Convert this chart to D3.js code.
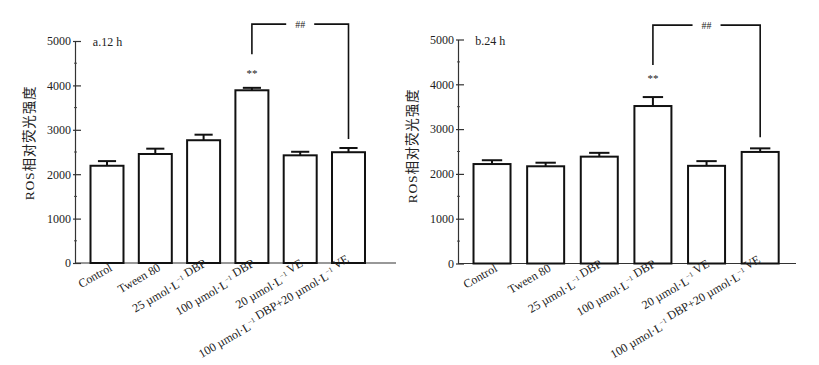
<!DOCTYPE html>
<html>
<head>
<meta charset="utf-8">
<script src="https://cdn.jsdelivr.net/npm/d3@7"></script>
<style>
  body { margin: 0; background: #fff; }
  svg { display: block; }
  text { font-family: "Liberation Serif", "Noto Sans CJK SC", serif; fill: #222; }
</style>
</head>
<body>
<svg id="svg" width="819" height="365"></svg>
<script>
// data
let categories = ["Control", "Tween 80", "25 DBP", "100 DBP", "20 VE", "100 DBP+20 VE"];
let values12 = [2190, 2455, 2765, 3890, 2425, 2495];
let errors12 = [105, 120, 125, 55, 80, 95];
let values24 = [2220, 2170, 2385, 3515, 2180, 2490];
let errors24 = [85, 80, 85, 200, 105, 80];
let yTicks = [0, 1000, 2000, 3000, 4000, 5000];
let yMinor = [500, 1500, 2500, 3500, 4500];
let panelTitles = ["a.12 h", "b.24 h"];

// label pieces: [before, after] around the "L^-1" superscript
let labelParts = [
  ["Control"], ["Tween 80"],
  ["25 µmol·L", " DBP"], ["100 µmol·L", " DBP"], ["20 µmol·L", " VE"],
  ["100 µmol·L", " DBP+20 µmol·L", " VE"]
];

let svg = d3.select("#svg");

// layout for the two panels
let panels = [
  { title: panelTitles[0], values: values12, errors: errors12,
    axisX: 75, axisEnd: 396, y0: 263, y1: 41, band: [82.85, 372.65], pad: 0.317,
    ytitleX: 34, ytitleY: 143, bracketTop: 5380, bracketL: 4700, bracketR: 2790, star: 4180 },
  { title: panelTitles[1], values: values24, errors: errors24,
    axisX: 458, axisEnd: 796, y0: 263.5, y1: 39.5, band: [465.2, 787.0], pad: 0.31,
    ytitleX: 417, ytitleY: 146, bracketTop: 5320, bracketL: 4430, bracketR: 2820, star: 4060 }
];

panels.forEach(function(p) {
  let y = d3.scaleLinear().domain([0, 5000]).range([p.y0, p.y1]);
  let x = d3.scaleBand().domain(categories).range(p.band)
    .paddingInner(p.pad).paddingOuter(p.pad / 2);

  let g = svg.append("g");

  // y axis
  let yAxis = d3.axisLeft(y).tickValues(yTicks).tickSizeInner(-6).tickSizeOuter(0)
    .tickPadding(3).tickFormat(d3.format("d"));
  let ya = g.append("g").attr("transform", "translate(" + p.axisX + ",0)").call(yAxis);
  ya.select(".domain").attr("stroke", "#333").attr("stroke-width", 1.2);
  ya.selectAll(".tick line").attr("stroke", "#333").attr("stroke-width", 1.2).attr("x1", -2);
  ya.selectAll(".tick text").attr("font-size", 12).attr("x", -4).attr("fill", "#222")
    .style("font-family", "Liberation Serif");
  ya.selectAll(".minor").data(yMinor).enter().append("line")
    .attr("x1", -1).attr("x2", 2)
    .attr("y1", d => y(d)).attr("y2", d => y(d))
    .attr("stroke", "#444").attr("stroke-width", 1);

  // x axis line
  g.append("line")
    .attr("x1", p.axisX).attr("x2", p.axisEnd)
    .attr("y1", y(0)).attr("y2", y(0))
    .attr("stroke", "#333").attr("stroke-width", 1.2);

  // bars
  g.selectAll(".bar").data(categories).enter().append("rect")
    .attr("x", d => x(d))
    .attr("y", (d, i) => y(p.values[i]))
    .attr("width", x.bandwidth())
    .attr("height", (d, i) => y(0) - y(p.values[i]))
    .attr("fill", "#fff").attr("stroke", "#111").attr("stroke-width", 2);

  // error bars
  let capW = x.bandwidth() * 0.55;
  categories.forEach(function(c, i) {
    let cx = x(c) + x.bandwidth() / 2;
    let top = y(p.values[i] + p.errors[i]);
    g.append("line").attr("x1", cx).attr("x2", cx)
      .attr("y1", y(p.values[i])).attr("y2", top)
      .attr("stroke", "#111").attr("stroke-width", 2);
    g.append("line").attr("x1", cx - capW / 2).attr("x2", cx + capW / 2)
      .attr("y1", top).attr("y2", top)
      .attr("stroke", "#111").attr("stroke-width", 2);
  });

  // x labels, rotated
  categories.forEach(function(c, i) {
    let cx = x(c) + x.bandwidth() / 2 + 6;
    let t = g.append("text")
      .attr("transform", "translate(" + cx + "," + (y(0) + 7) + ") rotate(-30)")
      .attr("text-anchor", "end").attr("font-size", 12);
    let parts = labelParts[i];
    parts.forEach(function(s, k) {
      t.append("tspan").text(s);
      if (k < parts.length - 1) {
        t.append("tspan").attr("font-size", 7).attr("dy", -5).text("−1");
        t.append("tspan").attr("dy", 5).text("");
      }
    });
  });

  // panel title
  g.append("text").attr("x", x.range()[0] + 10).attr("y", y(5000) + 5)
    .attr("font-size", 12).text(p.title);

  // y title
  g.append("text")
    .attr("transform", "translate(" + p.ytitleX + "," + p.ytitleY + ") rotate(-90)")
    .attr("text-anchor", "middle").attr("font-size", 13.5)
    .attr("letter-spacing", 0.8)
    .style("font-family", "'Liberation Serif', 'Noto Sans CJK SC'")
    .text("ROS相对荧光强度");

  // significance
  let c4 = x(categories[3]) + x.bandwidth() / 2;
  let c6 = x(categories[5]) + x.bandwidth() / 2;
  g.append("text").attr("x", c4).attr("y", y(p.star)).attr("text-anchor", "middle")
    .attr("font-size", 11).attr("fill", "#333").text("**");

  let mid = (c4 + c6) / 2;
  let yt = y(p.bracketTop);
  g.append("path")
    .attr("d", "M" + c4 + "," + y(p.bracketL) + "V" + yt + "H" + (mid - 14))
    .attr("fill", "none").attr("stroke", "#111").attr("stroke-width", 1.6);
  g.append("path")
    .attr("d", "M" + (mid + 14) + "," + yt + "H" + c6 + "V" + y(p.bracketR))
    .attr("fill", "none").attr("stroke", "#111").attr("stroke-width", 1.6);
  g.append("text").attr("x", mid).attr("y", yt + 3.5).attr("text-anchor", "middle")
    .attr("font-size", 10).attr("fill", "#666").text("##");
});
</script>
</body>
</html>
